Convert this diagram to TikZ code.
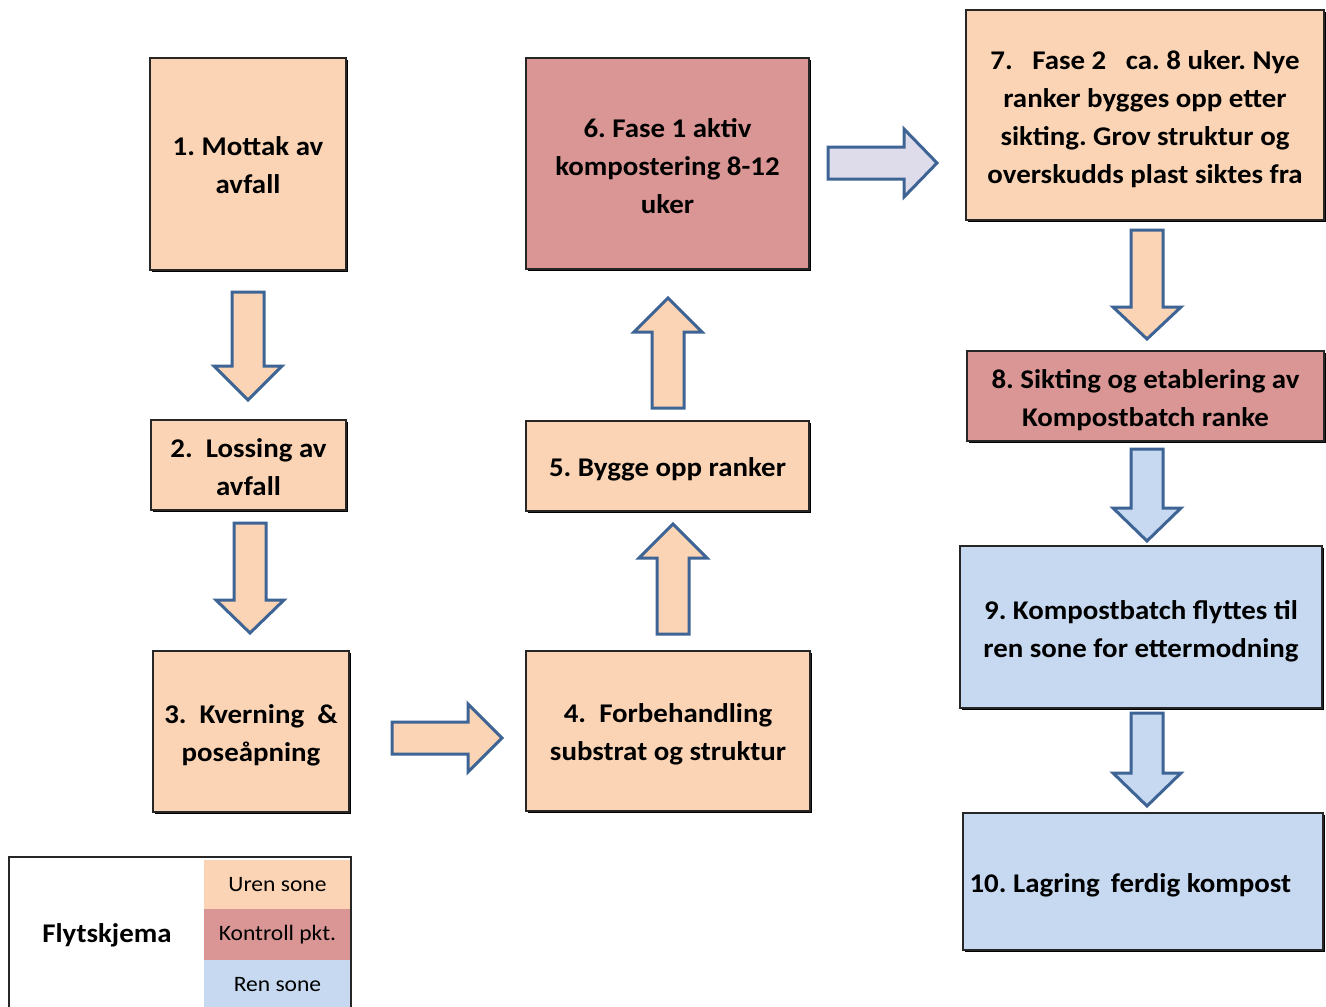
\documentclass[tikz,border=0pt]{standalone}
\usepackage{fontspec}
\setmainfont{Carlito}
\newfontfamily\boxfont[FakeStretch=1.07]{Carlito}
\usetikzlibrary{shadows}
\definecolor{peach}{HTML}{FAD4B4}
\definecolor{ctrl}{HTML}{D99694}
\definecolor{clean}{HTML}{C6D9F1}
\definecolor{lav}{HTML}{DEDBEB}
\definecolor{arrline}{HTML}{3E6496}
\newcommand\ArrV[5]{\draw[blockarrow,fill=#5] ({#1-16},#2) -- ({#1+16},#2) -- ({#1+16},#3) -- ({#1+34},#3) -- (#1,#4) -- ({#1-34},#3) -- ({#1-16},#3) -- cycle;}
\newcommand\ArrH[5]{\draw[blockarrow,fill=#5] (#2,{#1-16}) -- (#2,{#1+16}) -- (#3,{#1+16}) -- (#3,{#1+34}) -- (#4,#1) -- (#3,{#1-34}) -- (#3,{#1-16}) -- cycle;}
\begin{document}
\frenchspacing
\begin{tikzpicture}[x=1pt,y=-1pt,
  stagebox/.style={draw=black!85,line width=1.3pt,inner sep=0pt,
    drop shadow={shadow xshift=2.2pt,shadow yshift=-2.2pt,opacity=1,fill=black}},
  stagetext/.style={align=center,inner sep=0pt,
    font=\boxfont\fontsize{27}{38}\selectfont\bfseries\frenchspacing},
  blockarrow/.style={draw=arrline,line width=3pt,line join=miter},
  legcell/.style={minimum width=147pt,inner sep=0pt,font=\boxfont\fontsize{22}{26}\selectfont}]
\useasboundingbox (0,0) rectangle (1326,1007);
\fill[white] (0,0) rectangle (1326,1007);
% boxes
\node[stagebox,fill=peach,minimum width=196pt,minimum height=212pt] (b1) at (248,164) {};
\node[stagebox,fill=peach,minimum width=195pt,minimum height=90pt] (b2) at (248.5,465) {};
\node[stagebox,fill=peach,minimum width=196pt,minimum height=161pt] (b3) at (251,731.5) {};
\node[stagebox,fill=peach,minimum width=284pt,minimum height=160pt] (b4) at (668,731) {};
\node[stagebox,fill=peach,minimum width=283pt,minimum height=90pt] (b5) at (667.5,466) {};
\node[stagebox,fill=ctrl,minimum width=283pt,minimum height=211pt] (b6) at (667.5,163.5) {};
\node[stagebox,fill=peach,minimum width=358pt,minimum height=210pt] (b7) at (1145,115) {};
\node[stagebox,fill=ctrl,minimum width=357pt,minimum height=90pt] (b8) at (1145.5,396) {};
\node[stagebox,fill=clean,minimum width=362pt,minimum height=162pt] (b9) at (1141,627) {};
\node[stagebox,fill=clean,minimum width=360pt,minimum height=137pt] (b10) at (1143,881.5) {};
% texts
\node[stagetext] (t1) at ([yshift=-1.5pt]b1.center) {1. Mottak av\\avfall};
\node[stagetext] (t2) at ([yshift=-2.5pt]b2.center) {2.\ \ Lossing av\\avfall};
\node[stagetext] (t3) at ([yshift=-3.5pt]b3.center) {3.\ \ Kverning\ \ \&\\poseåpning};
\node[stagetext] (t4) at ([yshift=-3.5pt]b4.center) {4.\ \ Forbehandling\\substrat og struktur};
\node[stagetext] (t5) at ([yshift=-3.5pt]b5.center) {5. Bygge opp ranker};
\node[stagetext] (t6) at ([yshift=-3pt]b6.center) {6. Fase 1 aktiv\\kompostering 8-12\\uker};
\node[stagetext] (t7) at ([yshift=-4pt]b7.center) {7.\ \ \ Fase 2\ \ \ ca. 8 uker. Nye\\ranker bygges opp etter\\sikting. Grov struktur og\\overskudds plast siktes fra};
\node[stagetext] (t8) at ([yshift=-4.5pt]b8.center) {8. Sikting og etablering av\\Kompostbatch ranke};
\node[stagetext] (t9) at ([yshift=-4pt]b9.center) {9. Kompostbatch flyttes til\\ren sone for ettermodning};
\node[stagetext,anchor=west] (t10) at ([xshift=7pt,yshift=-4pt]b10.west) {10. Lagring\ \,ferdig kompost};
% block arrows
\ArrV{248}{292}{366}{400}{peach}
\ArrV{250}{523}{600}{633}{peach}
\ArrH{738}{392}{468}{502}{peach}
\ArrV{673}{634}{558}{524}{peach}
\ArrV{668}{408}{332}{298}{peach}
\ArrH{163}{828}{904}{937}{lav}
\ArrV{1147}{230}{307}{339}{peach}
\ArrV{1147}{449}{508}{541}{clean}
\ArrV{1147}{713}{773}{806}{clean}
% legend
\node[draw=black!85,line width=1.6pt,minimum width=342pt,minimum height=160pt,inner sep=0pt] (leg) at (180,937) {};
\node[legcell,fill=peach,minimum height=49pt] (l1) at (277.5,884.5) {Uren sone};
\node[legcell,fill=ctrl,minimum height=51pt] (l2) at (277.5,934.5) {Kontroll pkt.};
\node[legcell,fill=clean,minimum height=49pt] (l3) at (277.5,984.5) {Ren sone};
\draw[black!85,line width=1.6pt] (9,857) -- (351,857) -- (351,1012);
\node[font=\boxfont\fontsize{27}{30}\selectfont\bfseries] (lt) at (107,935) {Flytskjema};
\end{tikzpicture}
\end{document}
